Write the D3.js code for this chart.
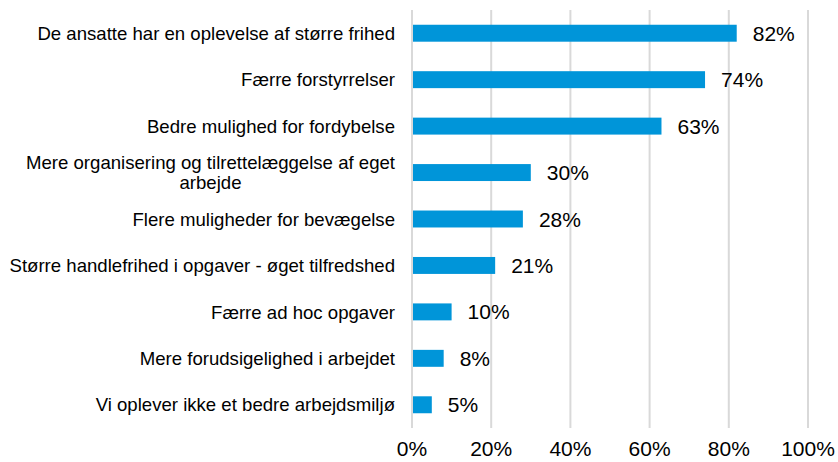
<!DOCTYPE html>
<html>
<head>
<meta charset="utf-8">
<script src="https://cdn.jsdelivr.net/npm/d3@7"></script>
<style>
  body { margin: 0; background: #fff; }
  text { font-family: "Liberation Sans", Arial, sans-serif; fill: #000; }
</style>
</head>
<body>
<script>
const categories = [
    'De ansatte har en oplevelse af større frihed',
    'Færre forstyrrelser',
    'Bedre mulighed for fordybelse',
    'Mere organisering og tilrettelæggelse af eget|arbejde',
    'Flere muligheder for bevægelse',
    'Større handlefrihed i opgaver - øget tilfredshed',
    'Færre ad hoc opgaver',
    'Mere forudsigelighed i arbejdet',
    'Vi oplever ikke et bedre arbejdsmiljø'
];
const values = [82, 74, 63, 30, 28, 21, 10, 8, 5];
const tickValues = [0, 20, 40, 60, 80, 100];

const width = 838, height = 462;
const margin = { top: 10, right: 30, bottom: 34, left: 412 };

const svg = d3.select('body').append('svg')
    .attr('width', width)
    .attr('height', height);

const x = d3.scaleLinear()
    .domain([0, 100])
    .range([margin.left, 808]);

const y = d3.scaleBand()
    .domain(categories)
    .range([margin.top, height - margin.bottom])
    .paddingInner(0.635)
    .paddingOuter(0.3175);

// grid lines
svg.append('g')
    .selectAll('line')
    .data(tickValues)
    .join('line')
    .attr('x1', d => x(d)).attr('x2', d => x(d))
    .attr('y1', margin.top).attr('y2', height - margin.bottom)
    .attr('stroke', '#d9d9d9')
    .attr('stroke-width', 2);

// bars
svg.append('g')
    .selectAll('rect')
    .data(values)
    .join('rect')
    .attr('x', x(0) + 1)
    .attr('y', (d, i) => y(categories[i]))
    .attr('width', d => x(d) - x(0) - 1)
    .attr('height', y.bandwidth())
    .attr('fill', '#0095d9');

// value labels
svg.append('g')
    .selectAll('text')
    .data(values)
    .join('text')
    .attr('x', d => x(d) + 16)
    .attr('y', (d, i) => y(categories[i]) + y.bandwidth() / 2)
    .attr('dy', '0.36em')
    .attr('font-size', 21)
    .text(d => d + '%');

// category labels
const labels = svg.append('g')
    .selectAll('text')
    .data(categories)
    .join('text')
    .attr('font-size', 18.6)
    .attr('y', d => y(d) + y.bandwidth() / 2);

labels.each(function (d) {
    const lines = d.split('|');
    const t = d3.select(this);
    if (lines.length == 1) {
        t.attr('x', 395).attr('text-anchor', 'end').attr('dy', '0.36em').text(d);
    } else {
        t.attr('text-anchor', 'middle');
        const tmp = t.append('tspan').text(lines[0]);
        const w = tmp.node().getComputedTextLength();
        tmp.remove();
        const cx = 395 - w / 2;
        lines.forEach((l, i) => {
            t.append('tspan')
                .attr('x', cx)
                .attr('dy', i == 0 ? (0.36 - 0.54) + 'em' : '1.08em')
                .text(l);
        });
    }
});

// x axis tick labels
svg.append('g')
    .selectAll('text')
    .data(tickValues)
    .join('text')
    .attr('x', d => x(d))
    .attr('y', 448)
    .attr('dy', '0.36em')
    .attr('text-anchor', 'middle')
    .attr('font-size', 21)
    .text(d => d + '%');
</script>
</body>
</html>
